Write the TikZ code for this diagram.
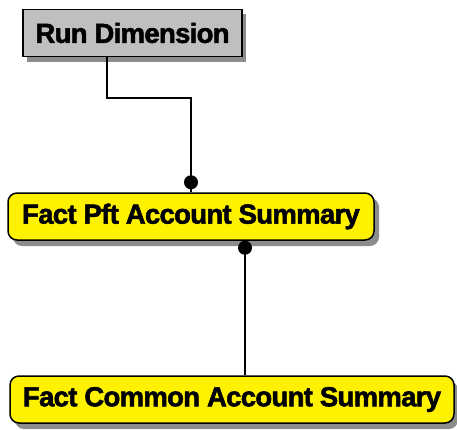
\documentclass[tikz,border=0pt]{standalone}
\usepackage{fontspec}
\setmainfont{Liberation Sans}
\newfontfamily\entfont[LetterSpace=-2.5,FakeBold=2]{Liberation Sans Bold}
\usetikzlibrary{calc}
\begin{document}
\begin{tikzpicture}[x=1pt,y=-1pt,
  ent/.style={draw=black,line width=1.5pt,font=\entfont\fontsize{27.5}{29}\selectfont,inner sep=0pt,
    minimum height=47pt},
  shad/.style={fill=black!45,draw=none},
  conn/.style={line width=1.3pt,black},
  dotend/.style={fill=black}]
\useasboundingbox (0,0) rectangle (457,429);
% shadows
\fill[shad] (27,14) rectangle (246,62);
\fill[shad,rounded corners=9pt] (13,198) rectangle (379,246);
\fill[shad,rounded corners=9pt] (15,381) rectangle (458,429);
% nodes
\node[ent,fill=black!25,minimum width=219pt] (run) at (132.5,33) {Run Dimension};
\node[ent,fill=yellow,rounded corners=9pt,minimum width=366pt] (pft) at (191,216.5) {Fact Pft Account Summary};
\node[ent,fill=yellow,rounded corners=9pt,minimum width=444pt] (com) at (232,399.5) {Fact Common Account Summary};
% connectors
\coordinate (c1) at (107,98);
\draw[conn] (run.south -| c1) -- (c1) -- (c1 -| 191,0) -- (pft.north -| 191,0);
\fill[dotend] ($(pft.north -| 191,0)+(0,-10)$) circle (7);
\draw[conn] (pft.south -| 245,0) -- (com.north -| 245,0);
\fill[dotend] ($(pft.south -| 245,0)+(0,7)$) circle (7);
\end{tikzpicture}
\end{document}
